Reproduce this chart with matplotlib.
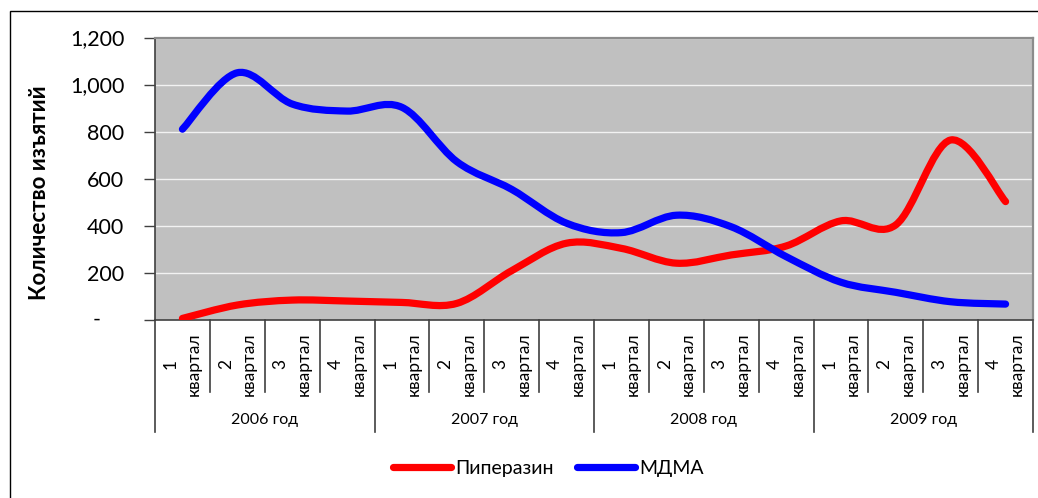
import numpy as np
import matplotlib
matplotlib.use('Agg')
import matplotlib.pyplot as plt
from matplotlib.path import Path
from matplotlib.patches import PathPatch, Rectangle
from matplotlib.lines import Line2D
import matplotlib.transforms as mtrans

plt.rcParams['font.family'] = ['Lato', 'Open Sans', 'DejaVu Sans']

# data
years = ['2006 год', '2007 год', '2008 год', '2009 год']
quarters = ['1', '2', '3', '4']
piperazin = [5, 62, 83, 79, 73, 69, 208, 325, 303, 240, 275, 313, 420, 403, 764, 502]
mdma = [810, 1050, 917, 887, 903, 672, 554, 410, 370, 444, 395, 268, 159, 116, 76, 66]
yticks = [0, 200, 400, 600, 800, 1000, 1200]


def smooth_path(y):
    # excel-like smoothed line: cubic bezier through every point
    y = np.asarray(y, float)
    x = np.arange(len(y), dtype=float)
    p = np.column_stack([x, y])
    pp = np.vstack([p[0], p, p[-1]])
    verts = [p[0]]
    codes = [Path.MOVETO]
    for i in range(len(p) - 1):
        c1 = pp[i + 1] + (pp[i + 2] - pp[i]) / 6
        c2 = pp[i + 2] - (pp[i + 3] - pp[i + 1]) / 6
        verts += [c1, c2, p[i + 1]]
        codes += [Path.CURVE4] * 3
    return Path(verts, codes)


W, H = 1038, 498
fig = plt.figure(figsize=(W / 100, H / 100), dpi=100)
ax_l, ax_r, ax_t, ax_b = 155, 1033, 37.5, 319.6
ax = fig.add_axes([ax_l / W, 1 - ax_b / H, (ax_r - ax_l) / W, (ax_b - ax_t) / H])
ax.set_facecolor('#C0C0C0')

for vals, col in [(piperazin, '#FF0000'), (mdma, '#0000FF')]:
    patch = PathPatch(smooth_path(vals), facecolor='none', edgecolor=col,
                      lw=5.2, capstyle='round', joinstyle='round', zorder=3)
    ax.add_patch(patch)

ax.set_xlim(-0.5, 15.5)
ax.set_ylim(0, 1200)
ax.set_yticks(yticks)
ax.set_yticklabels([''] + [f'{v:,}' for v in yticks[1:]])
ax.tick_params(axis='y', length=8, width=1, color='#404040', pad=14, labelsize=15.5)
ax.grid(axis='y', color='#F2F2F2', lw=1)
ax.set_axisbelow(True)
ax.text(-0.066, 0, '-', transform=mtrans.blended_transform_factory(ax.transAxes, ax.transData),
        ha='center', va='center', fontsize=15.5)

for s in ['top', 'right']:
    ax.spines[s].set_color('#8C8C8C')
    ax.spines[s].set_linewidth(1.6)
for s in ['left', 'bottom']:
    ax.spines[s].set_color('#404040')
    ax.spines[s].set_linewidth(1.2)

# category axis: quarters and years
ax.set_xticks(range(16))
ax.set_xticklabels([q + '\nквартал' for y in years for q in quarters],
                   rotation=90, ha='center', va='top', multialignment='center',
                   fontsize=12.5, linespacing=1.55)
ax.tick_params(axis='x', length=0, pad=9)

h_ax = ax_b - ax_t
short = -(392 - ax_b) / h_ax
long_ = -(432 - ax_b) / h_ax
bt = mtrans.blended_transform_factory(ax.transData, ax.transAxes)
for i in range(17):
    xb = i - 0.5
    y1 = long_ if i % 4 == 0 else short
    ax.add_line(Line2D([xb, xb], [0, y1], transform=bt, color='#404040', lw=1.2, clip_on=False))
yl = -(420 - ax_b) / h_ax
for k, yr in enumerate(years):
    ax.text(4 * k + 1.5, yl, yr, transform=bt, ha='center', va='center', fontsize=11.5)

fig.text(40 / W, 1 - 192.5 / H, 'Количество изъятий', rotation=90, ha='center', va='center',
         fontsize=16, fontweight='bold')

# legend
handles = [Line2D([], [], color='#FF0000', lw=5.2, solid_capstyle='round'),
           Line2D([], [], color='#0000FF', lw=5.2, solid_capstyle='round')]
fig.legend(handles, ['Пиперазин', 'МДМА'], loc='center', bbox_to_anchor=(548 / W, 1 - 468 / H),
           ncol=2, frameon=False, fontsize=14, handlelength=3.0, handletextpad=0.2,
           columnspacing=1.2)

# outer chart border (only left and top visible)
fig.add_artist(Rectangle((10 / W, -0.2), 2, 1 - 11 / H + 0.2, transform=fig.transFigure,
                         fill=False, edgecolor='black', lw=1))

fig.savefig('out.png', dpi=100)
